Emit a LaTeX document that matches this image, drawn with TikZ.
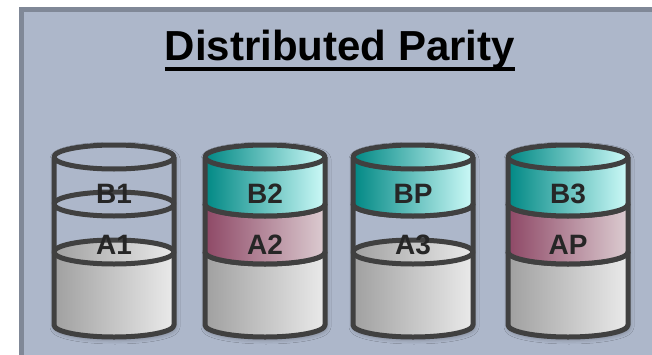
\documentclass[tikz,border=0pt]{standalone}
\usepackage{fontspec}
\setmainfont{Liberation Sans}
\usetikzlibrary{shadows.blur}

\definecolor{panelbg}{RGB}{173,183,202}
\definecolor{panelrim}{RGB}{128,136,151}
\definecolor{diskline}{RGB}{64,64,64}
\definecolor{tealdark}{RGB}{0,136,132}
\definecolor{tealmid}{RGB}{28,168,163}
\definecolor{teallight}{RGB}{205,250,248}
\definecolor{rosedark}{RGB}{142,72,102}
\definecolor{rosemid}{RGB}{188,146,162}
\definecolor{roselight}{RGB}{220,204,209}
\definecolor{greydark}{RGB}{160,160,160}
\definecolor{greylight}{RGB}{234,234,234}

\tikzset{
    panel/.style={draw=panelrim, line width=5pt, fill=panelbg},
    outline/.style={draw=diskline, line width=5pt, line join=round},
    stripeB/.style={left color=tealdark, middle color=tealmid, right color=teallight},
    stripeA/.style={left color=rosedark, middle color=rosemid, right color=roselight},
    spare/.style={left color=greydark, right color=greylight},
    lbl/.style={font=\bfseries\fontsize{28}{30}\selectfont, text=black!85, inner sep=0pt},
    heading/.style={font=\bfseries\fontsize{42}{48}\selectfont, inner sep=0pt},
    diskshadow/.style={blur shadow={shadow xshift=1pt, shadow yshift=-2pt, shadow blur radius=5pt, shadow opacity=35}}
}

% filled layer of a disk: centre x, top y, bottom y, fill style
\newcommand{\filledlayer}[4]{%
    \fill[#4] ({#1-60},#2) -- ({#1-60},#3) arc[start angle=180, end angle=360, x radius=60, y radius=12] -- ({#1+60},#2) -- cycle;
    \draw[outline] ({#1-60},#2) -- ({#1-60},#3) arc[start angle=180, end angle=360, x radius=60, y radius=12] -- ({#1+60},#2);
    \draw[#4, outline] (#1,#2) ellipse[x radius=60, y radius=12];
}
% empty layer: only the sides and the rim
\newcommand{\emptylayer}[3]{%
    \draw[outline] ({#1-60},#2) -- ({#1-60},#3) ({#1+60},#2) -- ({#1+60},#3) (#1,#2) ellipse[x radius=60, y radius=12];
}

\begin{document}
\begin{tikzpicture}[x=1pt, y=1pt]
    \useasboundingbox (0,0) rectangle (652,354);
    \clip (0,0) rectangle (652,354);
    \draw[panel] (21.5,344.5) rectangle (700,-20);

    \node[heading] (title) at (340,304) {Distributed Parity};
    \draw[line width=4pt] ([yshift=-8pt]title.base west) -- ([yshift=-8pt]title.base east);

    % shadows and the grey base of every disk
    \foreach \cx in {114,265,413,568} {
        \path[diskshadow, fill=panelbg] ({\cx-60},29) -- ({\cx-60},197) arc[start angle=180, end angle=0, x radius=60, y radius=12]
            -- ({\cx+60},29) arc[start angle=0, end angle=-180, x radius=60, y radius=12] -- cycle;
        \filledlayer{\cx}{102}{29}{spare}
    }

    % disk 1
    \emptylayer{114}{150}{102}
    \emptylayer{114}{197}{150}
    % disk 2
    \filledlayer{265}{150}{102}{stripeA}
    \filledlayer{265}{197}{150}{stripeB}
    % disk 3
    \emptylayer{413}{150}{102}
    \filledlayer{413}{197}{150}{stripeB}
    % disk 4
    \filledlayer{568}{150}{102}{stripeA}
    \filledlayer{568}{197}{150}{stripeB}

    \node[lbl] (b1) at (114,160) {B1};
    \node[lbl] (a1) at (114,109) {A1};
    \node[lbl] (b2) at (265,160) {B2};
    \node[lbl] (a2) at (265,109) {A2};
    \node[lbl] (bp) at (413,160) {BP};
    \node[lbl] (a3) at (413,109) {A3};
    \node[lbl] (b3) at (568,160) {B3};
    \node[lbl] (ap) at (568,109) {AP};
\end{tikzpicture}
\end{document}
